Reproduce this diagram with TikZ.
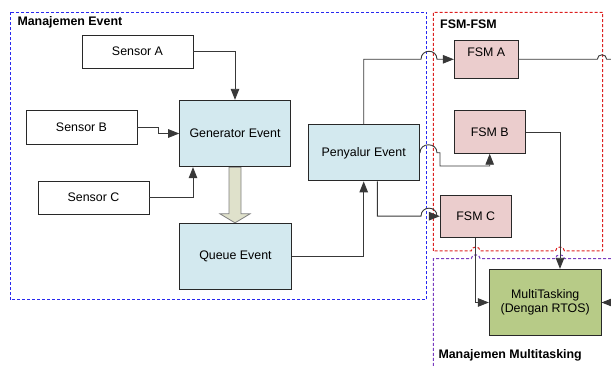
\documentclass[tikz,border=0pt]{standalone}
\usepackage{fontspec}
\setmainfont{Liberation Sans}
\usetikzlibrary{arrows.meta,backgrounds}
\definecolor{evfill}{HTML}{D3E9EF}
\definecolor{fsmfill}{HTML}{EBCDCD}
\definecolor{mtfill}{HTML}{B7CB87}
\definecolor{fatfill}{HTML}{DFE1CB}
\definecolor{boxline}{HTML}{282828}
\definecolor{connline}{HTML}{383838}
\definecolor{grpblue}{HTML}{2828F0}
\definecolor{grpred}{HTML}{DC2020}
\definecolor{grppurple}{HTML}{7A3CC0}
\begin{document}
\begin{tikzpicture}[x=1pt,y=-1pt,
  font=\fontsize{12.4}{14.5}\selectfont,
  box/.style={draw=boxline, line width=0.9pt, inner sep=0pt, align=center},
  sensor/.style={box, fill=white},
  evbox/.style={box, fill=evfill},
  fsmbox/.style={box, fill=fsmfill},
  mtbox/.style={box, fill=mtfill},
  conn/.style={draw=connline, line width=0.9pt, -{Triangle[length=11pt,width=8.5pt]}},
  plainconn/.style={draw=connline, line width=0.9pt},
  fat/.style={draw=gray, line width=0.8pt, fill=fatfill},
  grp/.style={line width=1pt, dash pattern=on 3pt off 2pt},
  grplabel/.style={font=\fontsize{12.4}{14.5}\selectfont\bfseries, anchor=west, inner sep=0pt}
]
\useasboundingbox (0,0) rectangle (611,366);

% group frames
\draw[grp, grpblue] (10,12.3) rectangle (426.7,300);
\draw[grp, grpred] (433.3,251) -- (433.3,12.3) -- (602.7,12.3) -- (602.7,251)
  -- (564.5,251) .. controls (564.5,245.7) and (555.5,245.7) .. (555.5,251)
  -- (480.2,251) .. controls (480.2,245.7) and (471.2,245.7) .. (471.2,251)
  -- cycle;
\draw[grp, grppurple] (611,258.7)
  -- (564.5,258.7) .. controls (564.5,253.4) and (555.5,253.4) .. (555.5,258.7)
  -- (480.2,258.7) .. controls (480.2,253.4) and (471.2,253.4) .. (471.2,258.7)
  -- (433.3,258.7) -- (433.3,366);

\node[grplabel] (lblev) at (17.3,22.5) {Manajemen Event};
\node[grplabel] (lblfsm) at (440,24) {FSM-FSM};
\node[grplabel] (lblmt) at (438.3,355) {Manajemen Multitasking};

% blocks
\node[sensor, minimum width=111pt, minimum height=33pt] (sa) at (137.5,51.7) {Sensor A};
\node[sensor, minimum width=111pt, minimum height=34pt] (sb) at (81.5,127.3) {Sensor B};
\node[sensor, minimum width=111pt, minimum height=33pt] (sc) at (93.5,197.7) {Sensor C};
\node[evbox, minimum width=110.7pt, minimum height=66.4pt] (gen) at (235,133.5) {Generator Event};
\node[evbox, minimum width=111.3pt, minimum height=66pt] (que) at (235.5,256.3) {Queue Event};
\node[evbox, minimum width=111.3pt, minimum height=56.3pt] (pen) at (363.7,152.8) {Penyalur Event};
\node[fsmbox, minimum width=63.7pt, minimum height=38pt,
  label={[yshift=7pt]center:FSM A}] (fa) at (486.2,59.3) {};
\node[fsmbox, minimum width=70.7pt, minimum height=42.6pt] (fb) at (489.7,132) {FSM B};
\node[fsmbox, minimum width=70.7pt, minimum height=42.3pt] (fc) at (475.7,216.2) {FSM C};
\node[mtbox, minimum width=111.7pt, minimum height=66.4pt] (mt) at (545.2,302.5)
  {MultiTasking\\(Dengan RTOS)};

% block arrow from generator to queue
\begin{pgfonlayer}{background}
\draw[fat] ([xshift=-6pt]gen.south) -- ([xshift=-6.5pt,yshift=9pt]que.north)
  -- ([xshift=-15.5pt,yshift=9pt]que.north) -- ([xshift=-0.5pt]que.north)
  -- ([xshift=14.5pt,yshift=9pt]que.north) -- ([xshift=5.5pt,yshift=9pt]que.north)
  -- ([xshift=6pt]gen.south) -- cycle;
\end{pgfonlayer}

% free ends at the right margin
\coordinate (outA) at (611,59.3);
\coordinate (inR) at (611,302.5);

% connectors
\draw[conn] (sa.east) -| (gen.north);
\draw[conn] (sb.east) -- ++(21,0) |- (gen.west);
\draw[conn] (sc.east) -| ([xshift=-42pt]gen.south);
\draw[conn] (que.east) -| (pen.south);
\draw[conn] (pen.north) |- (421,59.3)
  .. controls (421,48.6) and (437,48.6) .. (437,59.3) -- (fa.west);
\draw[conn] (pen.east) -- (420,152.8)
  .. controls (420,142.1) and (437,142.1) .. (437,152.8)
  -- (440,152.8) |- (489.7,166) -- (fb.south);
\draw[conn] ([xshift=13.6pt]pen.south) |- (421,216.2)
  .. controls (421,205.5) and (437,205.5) .. (437,216.2) -- (fc.west);
\draw[plainconn] (fa.east) -- (597.3,59.3)
  .. controls (597.3,53.3) and (606.7,53.3) .. (606.7,59.3) -- (outA);
\draw[conn] (fb.east) -| ([xshift=14.8pt]mt.north);
\draw[conn] (fc.south) |- (mt.west);
\draw[conn] (inR) -- (mt.east);
\end{tikzpicture}
\end{document}
